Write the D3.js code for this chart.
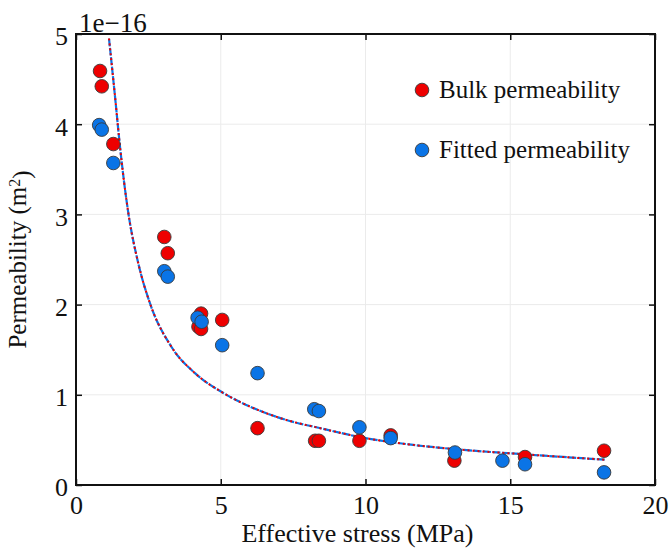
<!DOCTYPE html>
<html>
<head>
<meta charset="utf-8">
<script src="https://cdn.jsdelivr.net/npm/d3@7"></script>
<style>
  body { margin: 0; background: #fff; }
  svg text { font-family: "Liberation Serif", "Times New Roman", serif; fill: #111; }
</style>
</head>
<body>
<div id="chart"></div>
<script>
// measured data (x: effective stress MPa, y: permeability x1e-16 m2)
const bulkX = [0.83, 0.89, 1.29, 3.05, 3.17, 4.32, 4.23, 4.32, 5.05, 6.27, 8.26, 8.39, 9.79, 10.87, 13.07, 15.51, 18.24];
const bulkY = [4.59, 4.42, 3.78, 2.75, 2.57, 1.90, 1.755, 1.73, 1.83, 0.63, 0.49, 0.49, 0.49, 0.55, 0.27, 0.31, 0.38];
const fitX = [0.80, 0.89, 1.29, 3.05, 3.17, 4.20, 4.34, 5.05, 6.27, 8.23, 8.39, 9.79, 10.87, 13.09, 14.73, 15.51, 18.24];
const fitY = [3.99, 3.94, 3.57, 2.37, 2.31, 1.855, 1.81, 1.55, 1.24, 0.84, 0.82, 0.64, 0.52, 0.36, 0.27, 0.23, 0.14];
// fitted curve
const curveX = [1.14, 1.35, 1.52, 1.81, 2.15, 2.56, 3.3, 4.11, 5.09, 6.3, 7.5, 8.3, 10, 11.5, 13, 15.5, 18.3];
const curveY = [4.95, 4.30, 3.75, 3.01, 2.46, 2.01, 1.53, 1.24, 1.02, 0.83, 0.70, 0.64, 0.52, 0.45, 0.40, 0.34, 0.28];
const xTicks = [0, 5, 10, 15, 20];
const yTicks = [0, 1, 2, 3, 4, 5];
const seriesNames = ["Bulk permeability", "Fitted permeability"];
const seriesColors = ["#ee0000", "#0a74e6"];

const W = 671, H = 551;
const margin = {top: 34, right: 16, bottom: 66, left: 76},
      width = W - margin.left - margin.right,
      height = H - margin.top - margin.bottom;

const svg = d3.select("#chart").append("svg")
    .attr("width", W).attr("height", H)
    .append("g")
    .attr("transform", `translate(${margin.left},${margin.top})`);

const x = d3.scaleLinear().domain([0, 20]).range([0, width]);
const y = d3.scaleLinear().domain([0, 5]).range([height, 0]);

// grid
svg.append("g").selectAll("line.gx")
    .data(xTicks.slice(1, -1)).enter().append("line")
    .attr("x1", d => x(d)).attr("x2", d => x(d))
    .attr("y1", 0).attr("y2", height)
    .attr("stroke", "#ebebeb").attr("stroke-width", 1);
svg.append("g").selectAll("line.gy")
    .data(yTicks.slice(1, -1)).enter().append("line")
    .attr("y1", d => y(d)).attr("y2", d => y(d))
    .attr("x1", 0).attr("x2", width)
    .attr("stroke", "#ebebeb").attr("stroke-width", 1);

// axes with inward ticks
const tick = 6;
const fmt = d3.format("d");
const xb = svg.append("g").attr("transform", `translate(0,${height})`)
    .call(d3.axisBottom(x).tickValues(xTicks).tickFormat(fmt).tickSizeInner(-tick).tickSizeOuter(0).tickPadding(10));
const yl = svg.append("g")
    .call(d3.axisLeft(y).tickValues(yTicks).tickFormat(fmt).tickSizeInner(-tick).tickSizeOuter(0).tickPadding(8));
svg.append("g")
    .call(d3.axisTop(x).tickValues(xTicks).tickSizeInner(-tick).tickSizeOuter(0).tickFormat(""));
svg.append("g").attr("transform", `translate(${width},0)`)
    .call(d3.axisRight(y).tickValues(yTicks).tickSizeInner(-tick).tickSizeOuter(0).tickFormat(""));

svg.selectAll(".domain").remove();
svg.selectAll("g").attr("font-family", null);
svg.selectAll(".tick line").attr("stroke", "#111").attr("stroke-width", 1.5);
svg.selectAll(".tick text").style("font-size", "26px").attr("fill", "#111");
xb.selectAll(".tick text").attr("dy", "0.72em");
yl.selectAll(".tick text").attr("dy", "0.42em");

svg.append("rect")
    .attr("width", width).attr("height", height)
    .attr("fill", "none").attr("stroke", "#111").attr("stroke-width", 2);

// exponent
svg.append("text")
    .attr("x", 3).attr("y", -2)
    .style("font-size", "27px")
    .text("1e\u221216");

// axis labels
svg.append("text")
    .attr("x", width / 2 - 8).attr("y", height + 57)
    .attr("text-anchor", "middle")
    .style("font-size", "26px")
    .text("Effective stress (MPa)");

const yLab = svg.append("text")
    .attr("transform", `translate(${-50},${height / 2}) rotate(-90)`)
    .attr("text-anchor", "middle")
    .style("font-size", "25px");
yLab.append("tspan").text("Permeability (m");
yLab.append("tspan").attr("dy", "-0.4em").style("font-size", "16px").text("2");
yLab.append("tspan").attr("dy", "0.4em").text(")");

// fitted curve: blue dashed under red dotted
const curvePts = curveX.map((v, i) => [v, curveY[i]]);
const line = d3.line().x(d => x(d[0])).y(d => y(d[1])).curve(d3.curveMonotoneX);
svg.append("path").datum(curvePts)
    .attr("d", line).attr("fill", "none")
    .attr("stroke", seriesColors[1]).attr("stroke-width", 2.2)
    .attr("stroke-dasharray", "8,1.5");
svg.append("path").datum(curvePts)
    .attr("d", line).attr("fill", "none")
    .attr("stroke", seriesColors[0]).attr("stroke-width", 2)
    .attr("stroke-dasharray", "2,3");

// points
const bulk = bulkX.map((v, i) => ({x: v, y: bulkY[i]}));
const fit = fitX.map((v, i) => ({x: v, y: fitY[i]}));
[bulk, fit].forEach((data, k) => {
    svg.append("g").selectAll("circle")
        .data(data).enter().append("circle")
        .attr("cx", d => x(d.x)).attr("cy", d => y(d.y))
        .attr("r", 6.8)
        .attr("fill", seriesColors[k])
        .attr("stroke", "#3a3a3a").attr("stroke-width", 0.9);
});

// legend
const legend = svg.append("g").attr("transform", `translate(${346},${56})`);
seriesNames.forEach((name, i) => {
    const g = legend.append("g").attr("transform", `translate(0,${i * 60})`);
    g.append("circle").attr("r", 6.8)
        .attr("fill", seriesColors[i]).attr("stroke", "#3a3a3a").attr("stroke-width", 0.9);
    g.append("text").attr("x", 17).attr("dy", "0.33em")
        .style("font-size", "25px").text(name);
});
</script>
</body>
</html>
